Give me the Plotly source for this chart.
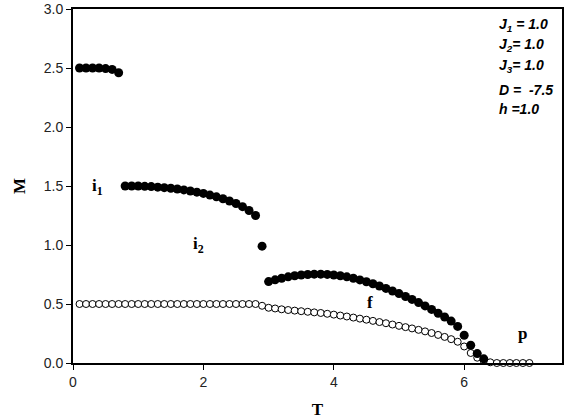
import plotly.graph_objects as go

# Filled circles (total magnetization branch)
T_filled = [0.1, 0.2, 0.3, 0.4, 0.5, 0.6, 0.7,
            0.8, 0.9, 1.0, 1.1, 1.2, 1.3, 1.4, 1.5, 1.6, 1.7, 1.8, 1.9, 2.0,
            2.1, 2.2, 2.3, 2.4, 2.5, 2.6, 2.7, 2.8,
            2.9,
            3.0, 3.1, 3.2, 3.3, 3.4, 3.5, 3.6, 3.7, 3.8, 3.9, 4.0, 4.1, 4.2,
            4.3, 4.4, 4.5, 4.6, 4.7, 4.8, 4.9, 5.0, 5.1, 5.2, 5.3, 5.4, 5.5,
            5.6, 5.7, 5.8, 5.9, 6.0, 6.1, 6.2, 6.3]
M_filled = [2.5, 2.5, 2.5, 2.5, 2.495, 2.488, 2.46,
            1.5, 1.5, 1.5, 1.497, 1.495, 1.49, 1.486, 1.481, 1.475, 1.467, 1.458, 1.448, 1.437,
            1.423, 1.408, 1.392, 1.373, 1.352, 1.325, 1.292, 1.25,
            0.99,
            0.69, 0.705, 0.718, 0.73, 0.739, 0.746, 0.75, 0.753, 0.753, 0.751, 0.746, 0.739, 0.73,
            0.718, 0.704, 0.689, 0.672, 0.653, 0.632, 0.61, 0.588, 0.564, 0.539, 0.512, 0.484, 0.454,
            0.422, 0.39, 0.355, 0.31, 0.235, 0.15, 0.08, 0.035]

# Open circles
T_open = [round(0.1 * k, 1) for k in range(1, 71)]
M_open = [0.5] * 28 + [
    0.485, 0.468, 0.462, 0.455, 0.449, 0.444, 0.439, 0.434, 0.429, 0.424,
    0.417, 0.41, 0.402, 0.394, 0.385, 0.376, 0.367, 0.357, 0.347, 0.337,
    0.326, 0.315, 0.304, 0.293, 0.281, 0.268, 0.254, 0.238, 0.221, 0.202,
    0.18, 0.14, 0.085, 0.045, 0.018, 0.006, 0.0, 0.0, 0.0, 0.0,
    0.0, 0.0]

x_ticks = [0, 2, 4, 6]
y_ticks = [0.0, 0.5, 1.0, 1.5, 2.0, 2.5, 3.0]

params = ["<i>J<sub>1</sub> = 1.0</i>", "<i>J<sub>2</sub>= 1.0</i>", "<i>J<sub>3</sub>= 1.0</i>",
          "<i>D =  -7.5</i>", "<i>h =1.0</i>"]

fig = go.Figure()
fig.add_trace(go.Scatter(x=T_open, y=M_open, mode="markers",
                         marker=dict(symbol="circle", size=7, color="white",
                                     line=dict(color="black", width=1)),
                         showlegend=False, cliponaxis=False))
fig.add_trace(go.Scatter(x=T_filled, y=M_filled, mode="markers",
                         marker=dict(symbol="circle", size=9, color="black",
                                     line=dict(width=0)),
                         showlegend=False, cliponaxis=False))

serif = "Liberation Serif"
labels = [("i<sub>1</sub>", 0.38, 1.49), ("i<sub>2</sub>", 1.93, 1.0),
          ("f", 4.55, 0.51), ("p", 6.9, 0.25)]
for txt, x, y in labels:
    fig.add_annotation(x=x, y=y, text="<b>" + txt + "</b>", showarrow=False,
                       font=dict(family=serif, size=17, color="black"))

ys = [0.955, 0.897, 0.838, 0.772, 0.718]
for txt, y in zip(params, ys):
    fig.add_annotation(xref="paper", yref="paper", x=0.868, y=y, xanchor="left",
                       yanchor="middle", text="<b>" + txt + "</b>", showarrow=False,
                       font=dict(family="Liberation Sans", size=14, color="black"))

axis_common = dict(showline=True, linewidth=2, linecolor="black", mirror=True,
                   ticks="outside", ticklen=5, tickwidth=1, tickcolor="black",
                   showgrid=False, zeroline=False, automargin=False,
                   tickfont=dict(family="Liberation Sans", size=14, color="#222"))

fig.update_xaxes(range=[0, 7.5], tickvals=x_ticks,
                 title=dict(text="<b>T</b>", font=dict(family=serif, size=17, color="black"),
                            standoff=24),
                 **axis_common)
fig.update_yaxes(range=[0, 3.0], tickvals=y_ticks, tickformat=".1f",
                 title=dict(text="<b>M</b>", font=dict(family=serif, size=17, color="black"),
                            standoff=14),
                 **axis_common)

fig.update_layout(width=572, height=419, margin=dict(l=73, r=10, t=9, b=56),
                  plot_bgcolor="white", paper_bgcolor="white")

fig.write_html("out.html")
